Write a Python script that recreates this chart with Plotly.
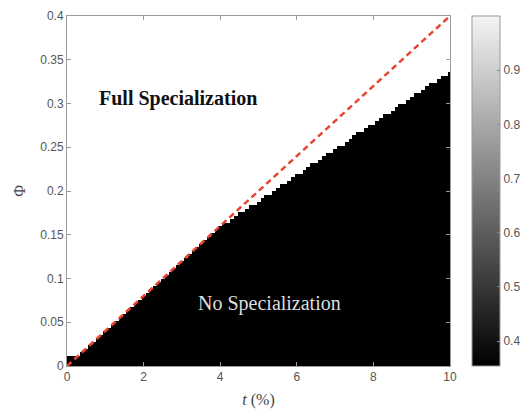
import plotly.graph_objects as go

# Column positions t (%) and boundary Φ value below which no specialization occurs
t_values = [round(i * 0.1, 1) for i in range(101)]
boundary_phi = [
    0.013, 0.013, 0.013, 0.013, 0.016, 0.020, 0.024, 0.028, 0.032, 0.036,
    0.040, 0.044, 0.048, 0.052, 0.056, 0.060, 0.064, 0.068, 0.072, 0.076,
    0.080, 0.084, 0.088, 0.092, 0.096, 0.100, 0.104, 0.108, 0.112, 0.116,
    0.120, 0.124, 0.128, 0.132, 0.136, 0.140, 0.144, 0.148, 0.152, 0.156,
    0.160, 0.163, 0.166, 0.169, 0.172, 0.175, 0.177, 0.180, 0.183, 0.186,
    0.190, 0.193, 0.196, 0.198, 0.201, 0.204, 0.207, 0.210, 0.213, 0.216,
    0.219, 0.222, 0.225, 0.228, 0.231, 0.234, 0.237, 0.240, 0.243, 0.246,
    0.249, 0.252, 0.254, 0.257, 0.260, 0.264, 0.267, 0.269, 0.272, 0.275,
    0.278, 0.281, 0.284, 0.287, 0.290, 0.293, 0.296, 0.299, 0.302, 0.305,
    0.308, 0.311, 0.314, 0.317, 0.320, 0.323, 0.326, 0.329, 0.331, 0.334,
    0.337,
]
phi_rows = [round(0.002 + 0.004 * k, 3) for k in range(100)]
low_value = 0.354
high_value = 1.0
line_t = [0, 10]
line_phi = [0, 0.4]
x_ticks = [0, 2, 4, 6, 8, 10]
y_ticks = [0, 0.05, 0.1, 0.15, 0.2, 0.25, 0.3, 0.35, 0.4]
cb_ticks = [0.4, 0.5, 0.6, 0.7, 0.8, 0.9]

# full-specialization cells are left empty so the white background shows
z = [[low_value if p < b else None for b in boundary_phi] for p in phi_rows]

fig = go.Figure()
fig.add_trace(go.Heatmap(
    x=t_values, y=phi_rows, z=z,
    zmin=low_value, zmax=high_value,
    colorscale=[[0, "#000000"], [1, "#f4f4f4"]],
    zsmooth=False,
    colorbar=dict(
        x=1.0574, xanchor="left", xref="paper",
        y=0.5, yanchor="middle", len=1.0, lenmode="fraction",
        thickness=28, thicknessmode="pixels",
        outlinecolor="#9a9a9a", outlinewidth=1,
        tickvals=cb_ticks, ticks="inside", ticklen=3, tickcolor="#888",
        tickfont=dict(family="Liberation Sans, Arial", size=12, color="#555"),
        xpad=0, ypad=0,
    ),
    showscale=True,
    hoverinfo="skip",
))
fig.add_trace(go.Scatter(
    x=line_t, y=line_phi, mode="lines",
    line=dict(color="#e8432c", width=2.5, dash="6px,4px"),
    showlegend=False, hoverinfo="skip",
))

axis_common = dict(
    showgrid=False, zeroline=False, showline=True, linecolor="#9a9a9a",
    linewidth=1, mirror="ticks", ticks="inside", ticklen=4, tickcolor="#9a9a9a",
    tickfont=dict(family="Liberation Sans, Arial", size=12, color="#555"),
)
fig.update_xaxes(range=[0, 10], tickvals=x_ticks, **axis_common,
                 title=dict(text="<i>t</i> (%)", font=dict(family="Liberation Serif, Times New Roman", size=16, color="#444"), standoff=10))
fig.update_yaxes(range=[0, 0.4], tickvals=y_ticks, **axis_common,
                 title=dict(text="Φ", font=dict(family="Liberation Serif, Times New Roman", size=16, color="#444"), standoff=10))

fig.add_annotation(x=2.9, y=0.306, text="<b>Full Specialization</b>", showarrow=False,
                   font=dict(family="Liberation Serif, Times New Roman", size=20, color="#111"))
fig.add_annotation(x=5.3, y=0.072, text="No Specialization", showarrow=False,
                   font=dict(family="Liberation Serif, Times New Roman", size=20, color="#dddddd"))

fig.update_layout(
    width=520, height=415,
    margin=dict(l=67, r=70, t=16, b=49, autoexpand=False),
    paper_bgcolor="white", plot_bgcolor="white",
    showlegend=False,
)
fig.write_html("out.html")
